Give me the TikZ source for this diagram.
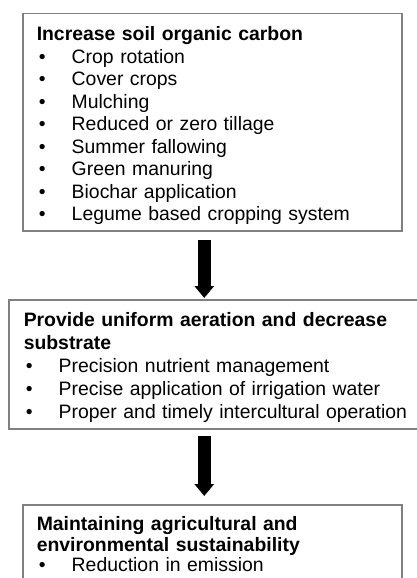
\documentclass[tikz,border=0pt]{standalone}
\usepackage{fontspec}
\setmainfont{Liberation Sans}
\usetikzlibrary{arrows.meta}
% bullet plus hanging indent for the list items
\newcommand{\bul}{\makebox[35pt][l]{\hspace{2pt}\textbullet}}

\begin{document}
\begin{tikzpicture}[x=1pt,y=1pt,
    panel/.style={draw=gray, line width=1.5pt, fill=white, anchor=north west,
                  align=left, inner ysep=6pt},
    fatarrow/.style={line width=12.5pt, -{Triangle[width=19pt,length=12pt]}}]
    \useasboundingbox (0,0) rectangle (417,-578);
    \clip (0,0) rectangle (417,-578);
    % first box: practices
    \node[panel, inner xsep=14pt, text width=351pt,
          font=\fontsize{19.4}{22.5}\selectfont] (soc) at (22,-13)
        {\rule{0pt}{21pt}\textbf{Increase soil organic carbon}\\
         \bul Crop rotation\\
         \bul Cover crops\\
         \bul Mulching\\
         \bul Reduced or zero tillage\\
         \bul Summer fallowing\\
         \bul Green manuring\\
         \bul Biochar application\\
         \bul Legume based cropping system};
    % second box, wider, runs off the right edge
    \node[panel, inner xsep=15pt, text width=387pt,
          font=\fontsize{19.4}{23}\selectfont] (aer) at (8,-299)
        {\rule{0pt}{21pt}\textbf{Provide uniform aeration and decrease}\\
         \textbf{substrate}\\
         \bul Precision nutrient management\\
         \bul Precise application of irrigation water\\
         \bul Proper and timely intercultural operation};
    % third box, cut off at the bottom
    \node[panel, inner xsep=14pt, text width=351pt,
          font=\fontsize{19.4}{20.5}\selectfont] (sus) at (22,-504)
        {\rule{0pt}{20pt}\textbf{Maintaining agricultural and}\\
         \textbf{environmental sustainability}\\
         \bul Reduction in emission\rule[-60pt]{0pt}{60pt}};
    \draw[fatarrow] ([xshift=-8pt,yshift=-8pt]soc.south) -- ([xshift=-13pt,yshift=1pt]aer.north);
    \draw[fatarrow] ([xshift=-13pt,yshift=-6pt]aer.south) -- ([xshift=-8pt,yshift=8pt]sus.north);
\end{tikzpicture}
\end{document}
